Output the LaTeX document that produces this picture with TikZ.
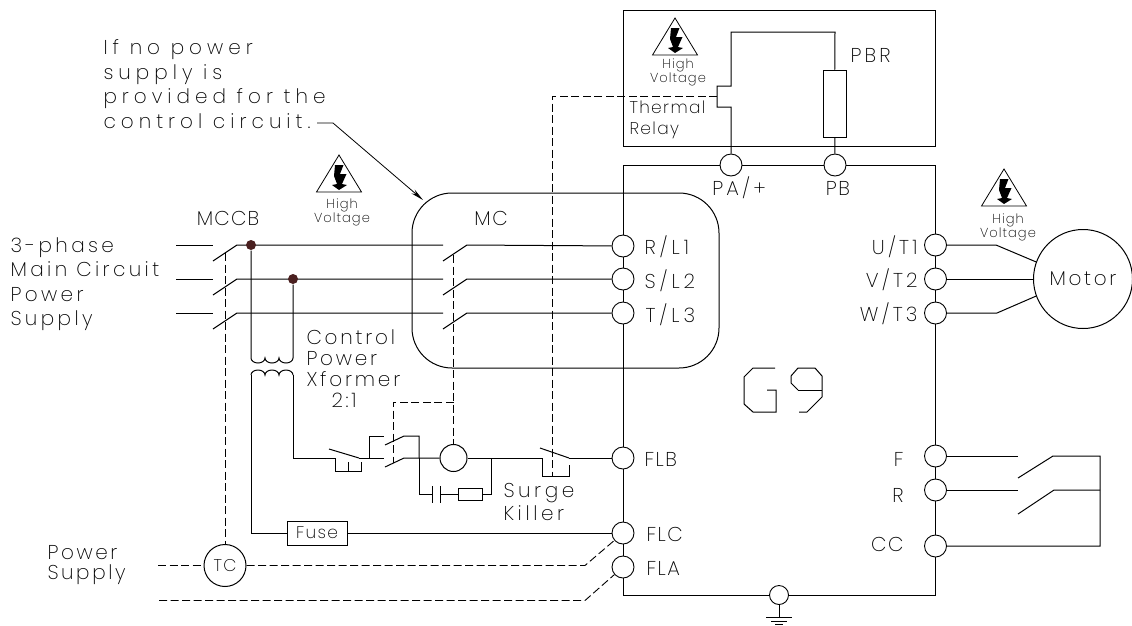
\documentclass[tikz,border=0pt]{standalone}
\usepackage{fontspec}
\setmainfont[LetterSpace=8]{Poppins ExtraLight}
\usetikzlibrary{arrows.meta,shapes.geometric}
\definecolor{dotcol}{HTML}{4A2020}
\tikzset{
  hvsign/.pic={
    \draw[line width=.8pt] (0,0) -- (-22.5,37) -- (22.5,37) -- cycle;
    \fill (-4,10) -- (4.5,10) -- (1,19) -- (7.5,19) -- (3,29) -- (8,30) -- (0,35) -- (-7,30) -- (-2,29) -- (-5,21) -- cycle;
  }
}
\begin{document}
\begin{tikzpicture}
[x=1pt,y=-1pt,line width=1pt,
 every node/.style={inner sep=0pt,font=\fontsize{20}{24.5}\selectfont},
 trk/.style={font=\fontsize{20}{24.5}\selectfont\addfontfeature{LetterSpace=#1}},
 term/.style={circle,draw,minimum size=22pt,line width=.9pt},
 dot/.style={circle,fill=dotcol,minimum size=10pt},
 lbl/.style={anchor=west,align=left},
 rlbl/.style={anchor=east,align=right},
 small/.style={align=center,font=\fontsize{13}{14}\selectfont},
 mid/.style={font=\fontsize{17}{20.5}\selectfont},
 ctrl/.style={dash pattern=on 8pt off 3.5pt,line width=.9pt}]
\useasboundingbox (0,0) rectangle (1132,625);
% drive terminals
\node[term] (rl1) at (623,246) {};
\node[term] (sl2) at (623,279) {};
\node[term] (tl3) at (623,313) {};
\node[term] (flb) at (623,458) {};
\node[term] (flc) at (623,533) {};
\node[term] (fla) at (623,567) {};
\node[term] (ut1) at (935.5,245) {};
\node[term] (vt2) at (935.5,279) {};
\node[term] (wt3) at (935.5,313) {};
\node[term] (fwd) at (935.5,456) {};
\node[term] (rev) at (935.5,490) {};
\node[term] (cc) at (935.5,546) {};
\node[term] (pa) at (731,165) {};
\node[term] (pb) at (835,165) {};
\node[term,minimum size=19pt] (gnd) at (779,595) {};
% drive outline
\coordinate (tl) at (623,165);
\coordinate (tr) at (935.5,165);
\coordinate (bl) at (623,595);
\coordinate (br) at (935.5,595);
\draw (rl1) -- (tl) -- (pa) -- (pb) -- (tr) -- (ut1);
\draw (rl1) -- (sl2) -- (tl3) -- (flb) -- (flc) -- (fla) -- (bl) -- (gnd) -- (br) -- (cc) -- (rev) -- (fwd) -- (wt3) -- (vt2) -- (ut1);
% ground
\coordinate (g1) at (779,617);
\draw (gnd) -- (g1);
\draw (766,617) -- (792,617);
\draw (771,621) -- (787,621);
\draw (775,624) -- (783,624);
% braking box
\draw (623,10) rectangle (935.5,146);
\node[draw,minimum width=23pt,minimum height=67pt] (pbr) at (834.5,103.5) {};
\coordinate (t1) at (731,107);
\coordinate (t2) at (717,107);
\coordinate (t3) at (717,86);
\coordinate (t4) at (731,86);
\coordinate (t5) at (731,32);
\coordinate (t6) at (835,32);
\coordinate (t7) at (717,96);
\coordinate (t8) at (552,96);
\coordinate (t9) at (552,476);
\draw (pa) -- (t1) -- (t2) -- (t3) -- (t4) -- (t5) -- (t6) -- (pbr);
\draw (pbr) -- (pb);
\draw[ctrl] (t7) -- (t8) -- (t9);
% motor
\node[circle,draw,minimum size=99pt,trk=13] (motor) at (1083,279) {Motor};
\coordinate (u1) at (996,245);
\coordinate (w1) at (997,313);
\draw (ut1) -- (u1) -- (motor.160);
\draw (vt2) -- (motor);
\draw (wt3) -- (w1) -- (motor.200);
% MC outline
\node[draw,rectangle,rounded corners=40pt,minimum width=307pt,minimum height=175pt] (mc) at (565.5,280.5) {};
% main circuit
\coordinate (a1) at (176,245);
\coordinate (a2) at (213,245);
\coordinate (a3) at (213,261);
\coordinate (a4) at (237,245);
\coordinate (a5) at (443,245);
\coordinate (a6) at (443,261);
\coordinate (a7) at (467,245);
\coordinate (b1) at (176,279);
\coordinate (b2) at (213,279);
\coordinate (b3) at (213,295);
\coordinate (b4) at (237,279);
\coordinate (b5) at (443,279);
\coordinate (b6) at (443,295);
\coordinate (b7) at (467,279);
\coordinate (c1) at (176,313);
\coordinate (c2) at (213,313);
\coordinate (c3) at (213,329);
\coordinate (c4) at (237,313);
\coordinate (c5) at (443,313);
\coordinate (c6) at (443,329);
\coordinate (c7) at (467,313);
\draw (a1) -- (a2);
\draw (a3) -- (a4) -- (a5);
\draw (a6) -- (a7) -- (rl1);
\draw (b1) -- (b2);
\draw (b3) -- (b4) -- (b5);
\draw (b6) -- (b7) -- (sl2);
\draw (c1) -- (c2);
\draw (c3) -- (c4) -- (c5);
\draw (c6) -- (c7) -- (tl3);
% transformer
\node[dot] (d1) at (251,245) {};
\node[dot] (d2) at (293,279) {};
\coordinate (x1) at (251,358);
\coordinate (x2) at (293,358);
\coordinate (x3) at (251,375);
\coordinate (x4) at (293,375);
\draw (d1) -- (x1) arc (180:0:7 and 5) arc (180:0:7 and 5) arc (180:0:7 and 5) -- (d2);
\draw (x3) arc (180:360:7 and 5) arc (180:360:7 and 5) arc (180:360:7 and 5);
% fuse
\node[draw,minimum width=60pt,minimum height=24pt,mid] (fuse) at (317,533) {Fuse};
\coordinate (f1) at (251,533);
\draw (x3) -- (f1) -- (fuse);
\draw (fuse) -- (flc);
% control line
\coordinate (k1) at (293,458);
\coordinate (k2) at (335,458);
\coordinate (k3) at (359,458);
\coordinate (k4) at (369,458);
\coordinate (k5) at (369,436);
\coordinate (k6) at (384,436);
\coordinate (k7) at (384,458);
\coordinate (k8) at (385,445);
\coordinate (k9) at (404,436);
\coordinate (k10) at (419,436);
\coordinate (k11) at (419,458);
\coordinate (k12) at (385,467);
\coordinate (k13) at (404,458);
\node[circle,draw,minimum size=27pt] (coil) at (453.5,458) {};
\draw (x4) -- (k1) -- (k2);
\draw (k3) -- (k7);
\draw (k4) -- (k5) -- (k6);
\draw (k8) -- (k9) -- (k10) -- (k11);
\draw (k12) -- (k13) -- (coil);
% overload contact
\draw (329,449) -- (k3);
\draw (k2) -- (335,471) -- (361,471) -- (361,462);
\draw (348,462) -- (348,471);
% fault contact
\coordinate (m1) at (542,458);
\coordinate (m2) at (569,458);
\draw (coil) -- (m1);
\draw (m2) -- (flb);
\draw (540,448) -- (m2);
\draw (m1) -- (542,476) -- (569,476) -- (569,465);
% surge killer
\coordinate (s1) at (419,494);
\coordinate (s2) at (432,494);
\coordinate (s3) at (440,494);
\coordinate (s4) at (491,494);
\coordinate (s5) at (491,458);
\node[draw,minimum width=24pt,minimum height=12pt] (sk) at (470,494) {};
\draw (k11) -- (s1) -- (s2);
\draw (432,486) -- (432,503);
\draw (440,486) -- (440,503);
\draw (s3) -- (sk);
\draw (sk) -- (s4) -- (s5);
% dashed links
\node[circle,draw,minimum size=42pt,mid] (tc) at (225,565.5) {TC};
\coordinate (e1) at (225,253);
\coordinate (e2) at (158,565.5);
\coordinate (e3) at (585,565.5);
\coordinate (e4) at (159,600.5);
\coordinate (e5) at (585,600.5);
\coordinate (e6) at (453.5,255);
\coordinate (e7) at (453.5,402);
\coordinate (e8) at (393,402);
\coordinate (e9) at (393,463);
\draw[ctrl] (e1) -- (tc);
\draw[ctrl] (e2) -- (tc);
\draw[ctrl] (tc) -- (e3) -- (flc);
\draw[ctrl] (e4) -- (e5) -- (fla);
\draw[ctrl] (e6) -- (coil);
\draw[ctrl] (e7) -- (e8) -- (e9);
% run switches
\coordinate (r1) at (1018,456);
\coordinate (r2) at (1018,478);
\coordinate (r3) at (1053,456);
\coordinate (r4) at (1100,456);
\coordinate (r5) at (1018,490);
\coordinate (r6) at (1018,514);
\coordinate (r7) at (1054,490);
\coordinate (r8) at (1100,490);
\coordinate (r9) at (1100,546);
\draw (fwd) -- (r1);
\draw (r2) -- (r3) -- (r4) -- (r9) -- (cc);
\draw (rev) -- (r5);
\draw (r6) -- (r7) -- (r8);
% G9
\draw (775,368) -- (753,368) -- (744,377) -- (744,404) -- (753,412) -- (776,412) -- (776,390) -- (767,390);
\draw (798,390) -- (791,383) -- (791,376) -- (798,368) -- (815,368) -- (822,376) -- (822,397) -- (807,412) -- (799,412);
\draw (798,390) -- (822,390);
% warning signs
\pic at (675,18) {hvsign};
\pic at (339,155) {hvsign};
\pic at (1004,169) {hvsign};
\node[small] (hv1) at (678,72) {High\\Voltage};
\node[small] (hv2) at (342,212) {High\\Voltage};
\node[small] (hv3) at (1008,227) {High\\Voltage};
% leader
\node[lbl,trk=25] (note) at (103,84) {If no power\\supply is\\provided for the\\control circuit.};
\coordinate (n1) at (317,123);
\coordinate (n2) at (333,123);
\coordinate (n3) at (423,200);
\draw[line width=.8pt,-{Stealth[length=13pt,width=5pt]}] (n1) -- (n2) -- (n3);
% labels
\node[lbl,trk=17] (supply) at (10,284) {3-phase\\Main Circuit\\Power\\Supply};
\node[trk=6] (mccb) at (228,218) {MCCB};
\node (mclbl) at (491,218) {MC};
\node[lbl,trk=20] (rlbl) at (644,247) {R/L1};
\node[lbl,trk=20] (slbl) at (644,281) {S/L2};
\node[lbl,trk=20] (tlbl) at (645,315) {T/L3};
\node[lbl] (flbl) at (644,459) {FLB};
\node[lbl] (fclbl) at (646,534) {FLC};
\node[lbl] (falbl) at (646,568) {FLA};
\node[trk=16] (palbl) at (739,188) {PA/+};
\node (pblbl) at (838,188) {PB};
\node[lbl,trk=16] (pbrlbl) at (850,55) {PBR};
\node[lbl,mid] (thermal) at (629,120) {Thermal\\Relay};
\node[rlbl,trk=16] (ulbl) at (918,247) {U/T1};
\node[rlbl,trk=16] (vlbl) at (918,280) {V/T2};
\node[rlbl,trk=16] (wlbl) at (918,314) {W/T3};
\node[rlbl] (flbl2) at (904,459) {F};
\node[rlbl] (rlbl2) at (904,495) {R};
\node[rlbl] (cclbl) at (904,544) {CC};
\node[lbl,font=\fontsize{20}{21}\selectfont\addfontfeature{LetterSpace=14}] (xfmr) at (306,369) {Control\\Power\\Xformer\\\hspace*{25pt}2:1};
\node[lbl,font=\fontsize{20}{23}\selectfont\addfontfeature{LetterSpace=18}] (surge) at (503,502) {Surge\\Killer};
\node[lbl,font=\fontsize{20}{20}\selectfont\addfontfeature{LetterSpace=13}] (psup) at (47,565) {Power\\Supply};
\end{tikzpicture}
\end{document}
